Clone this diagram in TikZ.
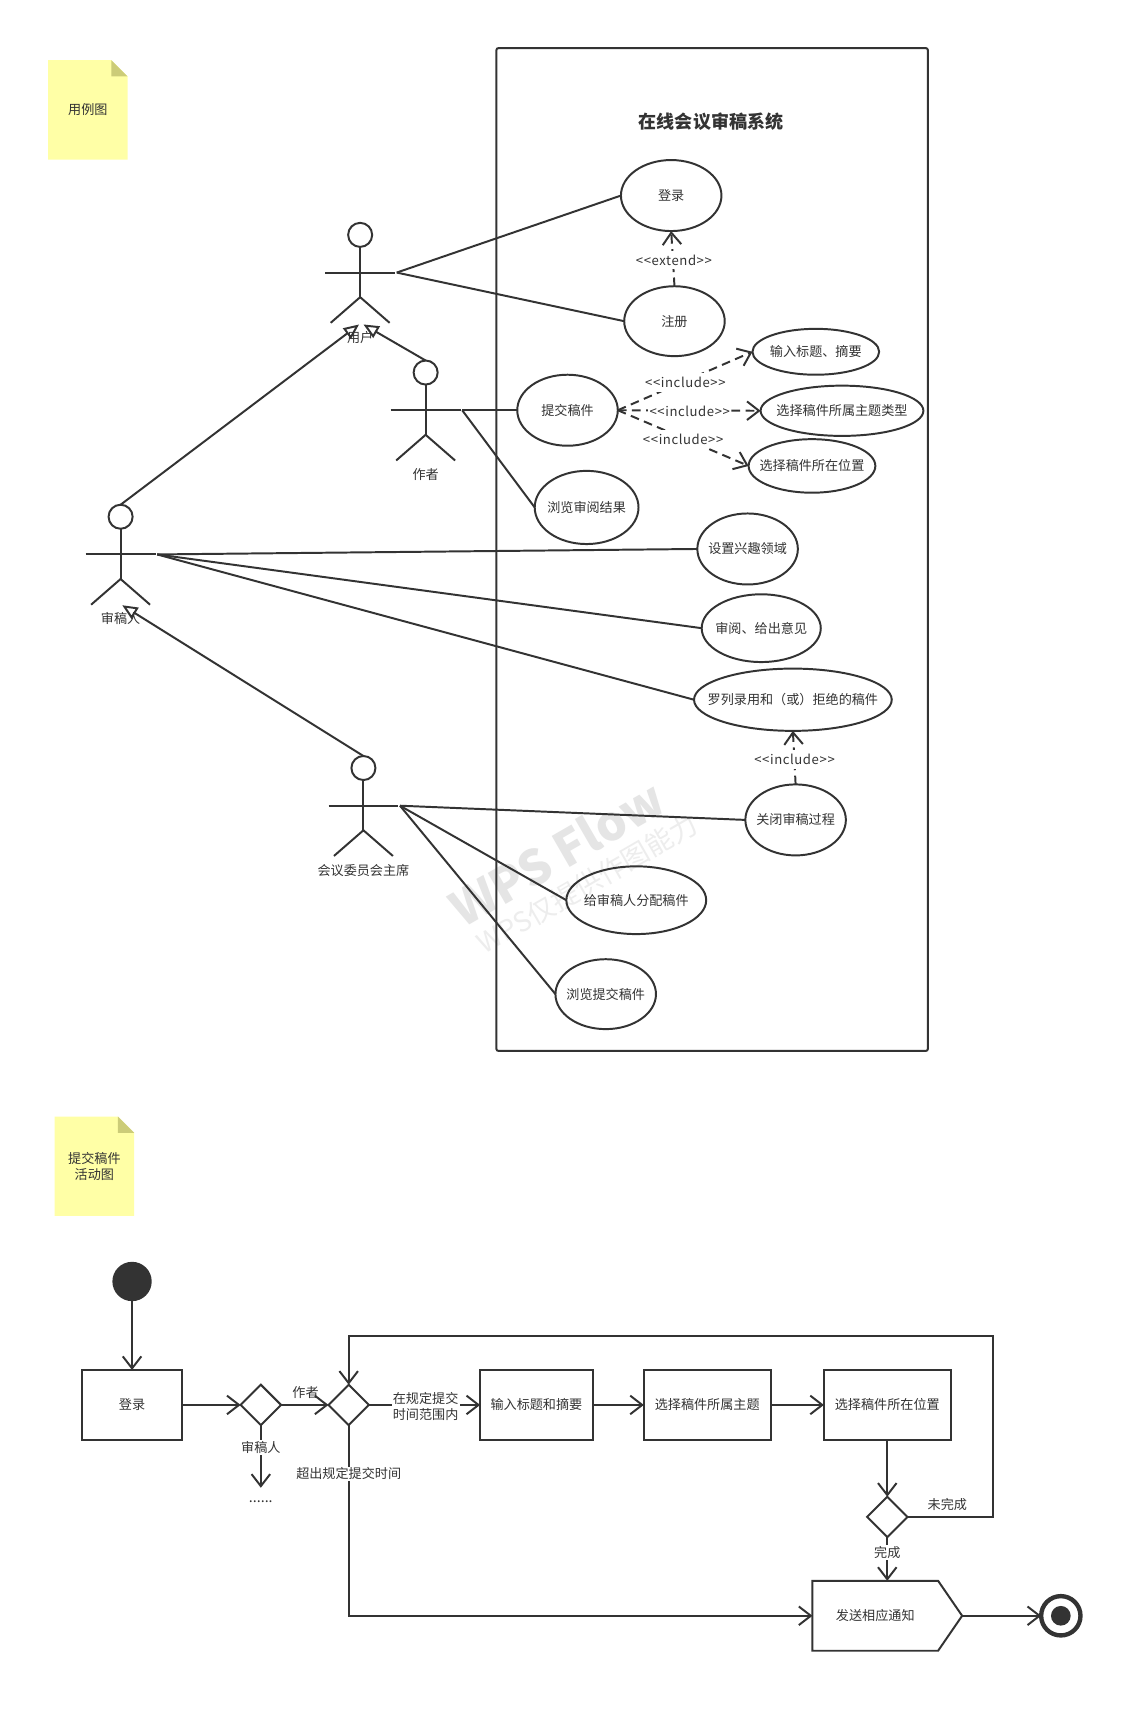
\documentclass[tikz,border=0pt]{standalone}
\usepackage{fontspec}
\setmainfont{Noto Sans CJK SC}
\usetikzlibrary{arrows.meta,shapes.geometric,shapes.symbols}
\definecolor{ink}{HTML}{333333}
\definecolor{notey}{HTML}{FFFFA6}
\definecolor{notef}{HTML}{CCCC78}
\newcommand{\zw}[1]{\makebox[0pt][c]{#1}}
\newcommand{\dep}[1]{\addfontfeature{LetterSpace=4.5}<\kern0.6pt<#1>\kern0.6pt>}
\tikzset{
  ln/.style={draw=ink,line width=1.8pt},
  uc/.style={ln,ellipse,inner sep=0pt,outer sep=0pt,text=ink,font=\fontsize{12}{14}\selectfont},
  lbl/.style={text=ink,inner sep=1pt,fill=white,align=center,font=\fontsize{12}{15}\selectfont},
  deplbl/.style={lbl,minimum height=17pt},
  plain/.style={text=ink,inner sep=0pt,align=center,font=\fontsize{12}{15}\selectfont},
  conn/.style={ln},
  barb/.style={ln,-{Straight Barb[length=11pt,width=17pt]}},
  depline/.style={ln,dash pattern=on 8pt off 5pt,-{Straight Barb[length=11pt,width=17pt,line width=1.8pt,sep=0pt]}},
  gen/.style={ln,-{Triangle[open,length=14pt,width=12pt]}},
  head/.style={ln,circle,minimum size=22pt,inner sep=0pt,outer sep=0pt},
  box/.style={ln,rectangle,inner sep=0pt,outer sep=0pt,text=ink,minimum height=64pt,font=\fontsize{12}{14}\selectfont},
  dia/.style={ln,diamond,aspect=1,minimum size=37pt,inner sep=0pt,outer sep=0pt},
}
\newcommand{\stickman}[4]{%
  \node[head] (#1) at (#2,#3) {};
  \coordinate (#1-l) at (#2-32,#3+34.5);
  \coordinate (#1-a) at (#2+32,#3+34.5);
  \coordinate (#1-r) at (#2+33.5,#3+34.5);
  \coordinate (#1-hip) at (#2,#3+57);
  \coordinate (#1-lf) at (#2-27,#3+80.5);
  \coordinate (#1-rf) at (#2+27,#3+80.5);
  \draw[ln] (#1.south) -- (#1-hip);
  \draw[ln] (#1-l) -- (#1-a);
  \draw[ln] (#1-lf) -- (#1-hip) -- (#1-rf);
  \node[plain] (#1-name) at (#2,#3+93.5) {#4};
}
\newcommand{\sticky}[6]{%
  \fill[notey] (#2,#3) -- (#4-15,#3) -- (#4,#3+15) -- (#4,#5) -- (#2,#5) -- cycle;
  \fill[notef] (#4-15,#3) -- (#4,#3+15) -- (#4-15,#3+15) -- cycle;
  \node[plain] (#1) at (#2/2+#4/2,#3/2+#5/2) {#6};
}
\begin{document}
\begin{tikzpicture}[x=0.999pt,y=-1pt]
\useasboundingbox (0,0) rectangle (1048.15,1568);
\fill[white] (0,0) rectangle (1048.15,1568);
% watermark
\node[rotate=30,text=black!10,font=\fontsize{44}{50}\selectfont\bfseries,inner sep=0pt] (wm1) at (510,781) {WPS Flow};
\node[rotate=30,text=black!7,font=\fontsize{25}{30}\selectfont,inner sep=0pt] (wm2) at (538,809) {WPS仅提供作图能力};
% notes
\sticky{n1}{44}{55}{117}{146}{用例图}
\sticky{n2}{50}{1022}{123}{1113}{提交稿件\\活动图}
% system
\node[ln,rectangle,rounded corners=2pt,minimum width=395pt,minimum height=918pt,inner sep=0pt,outer sep=0pt] (sys) at (652.5,503) {};
\node[text=ink,inner sep=0pt,font=\fontsize{16.5}{20}\selectfont\bfseries] (title) at (651.5,111) {在线会议审稿系统};
% use cases
\node[uc,minimum width=92pt,minimum height=65pt] (login) at (615,179) {\zw{登录}};
\node[uc,minimum width=92pt,minimum height=64pt] (reg) at (618,294) {\zw{注册}};
\node[uc,minimum width=92pt,minimum height=65pt] (submit) at (520,375.5) {\zw{提交稿件}};
\node[uc,minimum width=116pt,minimum height=42pt] (title1) at (747.5,322) {\zw{输入标题、摘要}};
\node[uc,minimum width=149pt,minimum height=46pt] (topic) at (771.5,376) {\zw{选择稿件所属主题类型}};
\node[uc,minimum width=116pt,minimum height=49pt] (place) at (744,426.5) {\zw{选择稿件所在位置}};
\node[uc,minimum width=95pt,minimum height=67pt] (result) at (537.5,464.5) {\zw{浏览审阅结果}};
\node[uc,minimum width=92pt,minimum height=65pt] (field) at (685,502.5) {\zw{设置兴趣领域}};
\node[uc,minimum width=109pt,minimum height=62pt] (review) at (697.5,575) {\zw{审阅、给出意见}};
\node[uc,minimum width=181pt,minimum height=57pt] (list) at (726.5,640.5) {\zw{罗列录用和（或）拒绝的稿件}};
\node[uc,minimum width=92pt,minimum height=65pt] (close) at (729,750.5) {\zw{关闭审稿过程}};
\node[uc,minimum width=128pt,minimum height=62pt] (assign) at (583,824) {\zw{给审稿人分配稿件}};
\node[uc,minimum width=92pt,minimum height=64pt] (browse) at (555,910) {\zw{浏览提交稿件}};
% actors
\stickman{usr}{330}{215}{用户}
\stickman{aut}{390}{341}{作者}
\stickman{rev}{110.5}{473}{审稿人}
\stickman{chair}{333}{703}{会议委员会主席}
\coordinate (usrT1) at (329,297);
\coordinate (usrT2) at (333,297);
\coordinate (revT) at (112,554);
\draw[gen] (rev.north) -- (usrT1);
\draw[gen] (aut.north) -- (usrT2);
\draw[gen] (chair.north) -- (revT);
% associations
\draw[conn] (usr-r) -- (login.west);
\draw[conn] (usr-r) -- (reg.west);
\draw[conn] (aut-r) -- (submit.west);
\draw[conn] (aut-r) -- (result.west);
\draw[conn] (rev-r) -- (field.west);
\draw[conn] (rev-r) -- (review.west);
\draw[conn] (rev-r) -- (list.west);
\draw[conn] (chair-r) -- (close.west);
\draw[conn] (chair-r) -- (assign.west);
\draw[conn] (chair-r) -- (browse.west);
% dependencies
\draw[depline] (reg.north) -- (login.south);
\draw[depline] (submit.east) -- (title1.west);
\draw[depline] (submit.east) -- (topic.west);
\draw[depline] (submit.east) -- (place.west);
\draw[depline] (close.north) -- (list.south);
\node[deplbl] (l1) at (617.5,238) {\dep{extend}};
\node[deplbl] (l2) at (628,350) {\dep{include}};
\node[deplbl] (l3) at (632,376.5) {\dep{include}};
\node[deplbl] (l4) at (626,402) {\dep{include}};
\node[deplbl] (l5) at (728,695) {\dep{include}};
% activity
\node[circle,fill=ink,minimum size=36pt,inner sep=0pt,outer sep=0pt] (start) at (121,1173) {};
\node[box,minimum width=92pt] (alogin) at (121,1286) {登录};
\node[dia] (d1) at (239,1286) {};
\node[dia] (d2) at (319.5,1286) {};
\node[dia] (d3) at (813,1388.5) {};
\node[box,minimum width=103pt] (b1) at (491.5,1286) {输入标题和摘要};
\node[box,minimum width=116pt] (b2) at (648,1286) {选择稿件所属主题};
\node[box,minimum width=116pt] (b3) at (813,1286) {选择稿件所在位置};
\node[ln,signal,signal to=east,signal from=nowhere,signal pointer angle=111,minimum width=137pt,minimum height=64pt,inner sep=0pt,outer sep=0pt,text=ink,font=\fontsize{12}{14}\selectfont] (send) at (802,1479) {发送相应通知};
\node[circle,draw=ink,line width=4pt,minimum size=36pt,inner sep=0pt,outer sep=0pt] (finish) at (972,1479) {};
\node[circle,fill=ink,minimum size=18pt,inner sep=0pt] (finishdot) at (972,1479) {};
\node[plain,minimum height=26pt,font=\fontsize{13}{14}\selectfont] (dots) at (239,1375) {......};
\coordinate (sendtop) at (813,1447);
\coordinate (loopr) at (910,1223);
\draw[barb] (start.south) -- (alogin.north);
\draw[barb] (alogin.east) -- (d1.west);
\draw[barb] (d1.east) -- (d2.west);
\draw[barb] (d1.south) -- (dots.north);
\draw[barb] (d2.east) -- (b1.west);
\draw[barb] (b1.east) -- (b2.west);
\draw[barb] (b2.east) -- (b3.west);
\draw[barb] (b3.south) -- (d3.north);
\draw[barb] (d3.south) -- (sendtop);
\draw[barb] (d2.south) |- (send.west);
\draw[barb] (d3.east) -| (loopr) -| (d2.north);
\draw[barb] (send.east) -- (finish.west);
\node[plain] (t1) at (280,1275) {作者};
\node[lbl] (t2) at (239,1325) {审稿人};
\node[lbl] (t3) at (390,1287.5) {在规定提交\\时间范围内};
\node[lbl] (t4) at (319.5,1349) {超出规定提交时间};
\node[plain] (t5) at (868,1377) {未完成};
\node[lbl] (t6) at (813,1421) {完成};
\end{tikzpicture}
\end{document}
